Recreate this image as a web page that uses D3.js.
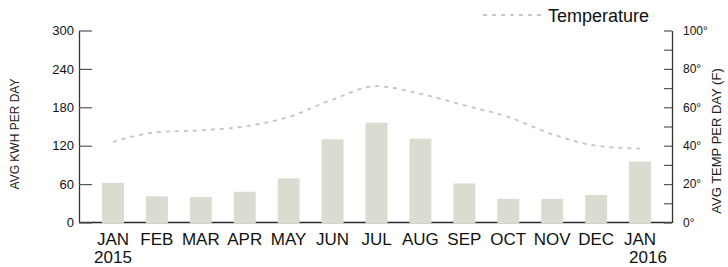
<!DOCTYPE html>
<html>
<head>
<meta charset="utf-8">
<script src="https://cdn.jsdelivr.net/npm/d3@7"></script>
<style>
  body { margin: 0; background: #fff; }
  svg { display: block; font-family: "Liberation Sans", Arial, sans-serif; }
</style>
</head>
<body>
<div id="chart"></div>
<script>
// data
const months = ['JAN', 'FEB', 'MAR', 'APR', 'MAY', 'JUN', 'JUL', 'AUG', 'SEP', 'OCT', 'NOV', 'DEC', 'JAN']
const years = ['2015', '', '', '', '', '', '', '', '', '', '', '', '2016']
const kwh = [62, 41, 40, 48, 69, 130, 156, 131, 61, 37, 37, 43, 95]
const temps = [42, 47, 48, 50, 55, 64, 71, 67, 61, 55, 46, 40, 38.5]
const kwhTicks = [0, 60, 120, 180, 240, 300]
const tempTicks = [0, 10, 20, 30, 40, 50, 60, 70, 80, 90, 100]

const W = 728, H = 267

const svg = d3.select('#chart')
    .append('svg')
    .attr('width', W)
    .attr('height', H)

const xScale = d3.scaleBand()
    .domain(d3.range(months.length))
    .range([91, 662])
    .paddingInner(0.5)
    .paddingOuter(0.25)
const yScale = d3.scaleLinear().domain([0, 300]).range([222.5, 30.5])
const tScale = d3.scaleLinear().domain([0, 100]).range([222.5, 30.5])

// baseline along the bottom
svg.append('line')
    .attr('x1', 79).attr('x2', 672)
    .attr('y1', yScale(0)).attr('y2', yScale(0))
    .attr('stroke', '#2a2a2a')
    .attr('stroke-width', 1.6)

// bars
svg.selectAll('.bar')
    .data(kwh)
    .enter()
    .append('rect')
    .attr('class', 'bar')
    .attr('x', (d, i) => xScale(i))
    .attr('width', xScale.bandwidth())
    .attr('y', d => yScale(d))
    .attr('height', d => yScale(0) - yScale(d) + 1)
    .attr('fill', '#d9dcd1')

// left axis, ticks pointing inwards
const yaxis = d3.axisLeft(yScale)
    .tickValues(kwhTicks)
    .tickSizeInner(-13)
    .tickSizeOuter(0)
    .tickPadding(5)
const gy = svg.append('g')
    .attr('transform', 'translate(79,0)')
    .call(yaxis)
gy.select('.domain').attr('stroke', '#333').attr('stroke-width', 1.3)
gy.selectAll('.tick line').attr('stroke', '#555').attr('stroke-width', 1.2)
gy.selectAll('.tick text')
    .style('font-size', '13px')
    .style('font-family', '"Liberation Sans", Arial, sans-serif')
    .attr('fill', '#111')

// right axis for temperature, labels every 20
const taxis = d3.axisRight(tScale)
    .tickValues(tempTicks)
    .tickSizeInner(-8)
    .tickSizeOuter(0)
    .tickPadding(11)
    .tickFormat(d => d % 20 === 0 ? d + '°' : '')
const gt = svg.append('g')
    .attr('transform', 'translate(672,0)')
    .call(taxis)
gt.select('.domain').attr('stroke', '#333').attr('stroke-width', 1.3)
gt.selectAll('.tick line').attr('stroke', '#555').attr('stroke-width', 1.2)
gt.selectAll('.tick text')
    .style('font-size', '12px')
    .style('font-family', '"Liberation Sans", Arial, sans-serif')
    .attr('fill', '#111')

// temperature line
const line = d3.line()
    .x((d, i) => xScale(i) + xScale.bandwidth() / 2)
    .y(d => tScale(d))
    .curve(d3.curveMonotoneX)

svg.append('path')
    .datum(temps)
    .attr('fill', 'none')
    .attr('stroke', '#c4c4c4')
    .attr('stroke-width', 1.8)
    .attr('stroke-dasharray', '4,5')
    .attr('d', line)

// month labels
const xl = svg.append('g')
xl.selectAll('.month')
    .data(months)
    .enter()
    .append('text')
    .attr('x', (d, i) => xScale(i) + xScale.bandwidth() / 2)
    .attr('y', 245)
    .attr('text-anchor', 'middle')
    .style('font-size', '17px')
    .attr('fill', '#111')
    .text(d => d)
xl.selectAll('.year')
    .data(years)
    .enter()
    .append('text')
    .attr('x', (d, i) => xScale(i) + xScale.bandwidth() / 2 + (i === 12 ? 8 : 0))
    .attr('y', 263)
    .attr('text-anchor', 'middle')
    .style('font-size', '17px')
    .attr('fill', '#111')
    .text(d => d)

// axis titles
svg.append('text')
    .attr('transform', 'translate(19,134) rotate(-90)')
    .attr('text-anchor', 'middle')
    .style('font-size', '12px')
    .attr('fill', '#222')
    .text('AVG KWH PER DAY')

svg.append('text')
    .attr('transform', 'translate(721,141) rotate(-90)')
    .attr('text-anchor', 'middle')
    .style('font-size', '13px')
    .attr('fill', '#222')
    .text('AVG TEMP PER DAY (F)')

// legend
svg.append('line')
    .attr('x1', 483).attr('x2', 543)
    .attr('y1', 15).attr('y2', 15)
    .attr('stroke', '#c8c8c8')
    .attr('stroke-width', 1.8)
    .attr('stroke-dasharray', '4,5')
svg.append('text')
    .attr('x', 548)
    .attr('y', 22)
    .style('font-size', '18px')
    .attr('fill', '#111')
    .text('Temperature')
</script>
</body>
</html>
